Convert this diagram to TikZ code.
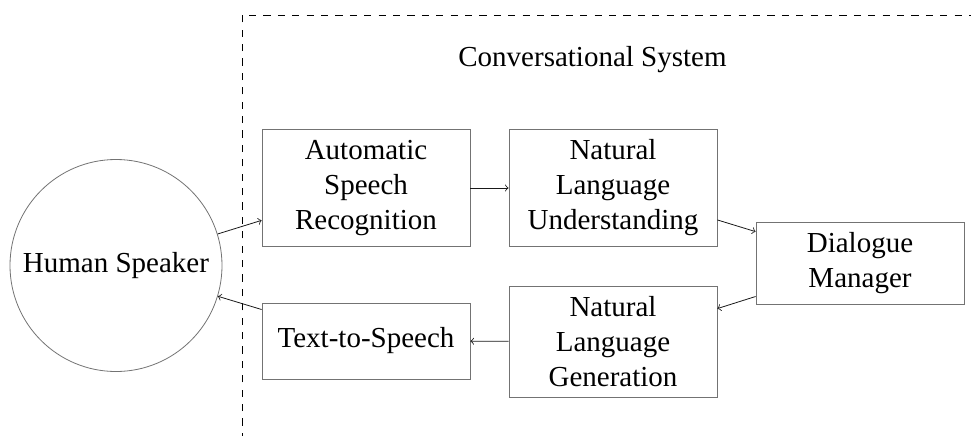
\documentclass[tikz,border=0pt]{standalone}
\usepackage{fontspec}
\setmainfont{Liberation Serif}
\begin{document}
\begin{tikzpicture}[
  x=0.5pt, y=-0.5pt,
  every node/.style={font=\fontsize{14.5pt}{17.5pt}\selectfont},
  module/.style={draw=black!55, rectangle, align=center, minimum width=104pt,
    minimum height=38pt, inner xsep=4pt, inner ysep=5.2pt},
  agent/.style={draw=black!55, circle, minimum size=106pt, inner sep=0pt},
  flow/.style={->, line width=0.4pt, draw=black!90},
  frame/.style={dashed, dash pattern=on 3.6pt off 3.6pt, line width=0.4pt}
]
\useasboundingbox (0,0) rectangle (971,435);
\clip (0,0) rectangle (971,435);

% boundary of the conversational system
\coordinate (fbl) at (242,440);
\coordinate (ftl) at (242,15);
\coordinate (ftr) at (980,15);
\draw[frame] (fbl) -- (ftl) -- (ftr);
\node[anchor=base] (title) at (592.5,66.7) {Conversational System};

% user
\node[agent] (human) at (116,265.5) {Human Speaker};

% pipeline modules
\node[module] (asr) at (366,188)   {Automatic\\Speech\\Recognition};
\node[module] (nlu) at (613,188)   {Natural\\Language\\Understanding};
\node[module] (dm)  at (860,263.5) {Dialogue\\Manager};
\node[module] (nlg) at (613,341.5) {Natural\\Language\\Generation};
\node[module] (tts) at (366,341)   {Text-to-Speech};

% data flow
\draw[flow] (human) -- (asr);
\draw[flow] (asr) -- (nlu);
\draw[flow] (nlu) -- (dm);
\draw[flow] (dm) -- (nlg);
\draw[flow] (nlg) -- (tts);
\draw[flow] (tts) -- (human);
\end{tikzpicture}
\end{document}
